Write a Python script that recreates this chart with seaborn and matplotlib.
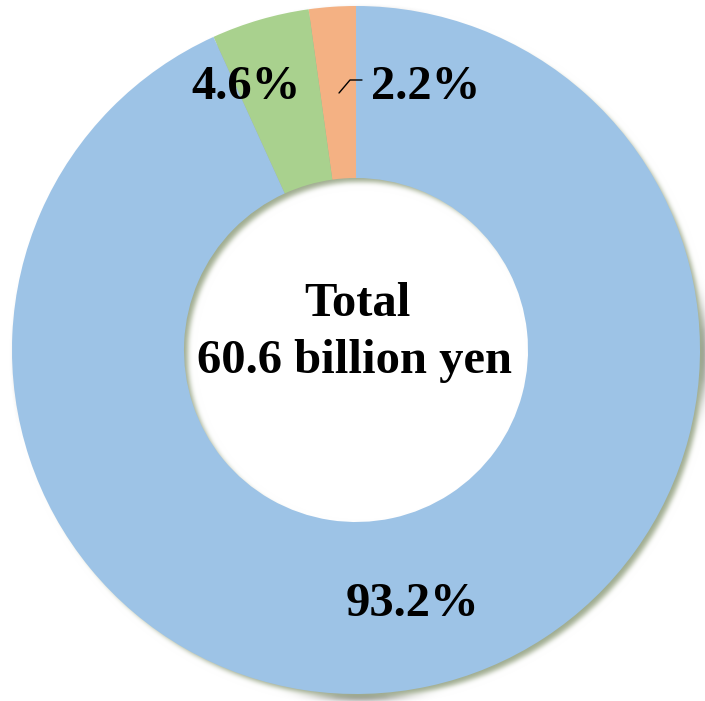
import numpy as np
import matplotlib
matplotlib.use("Agg")
import matplotlib.pyplot as plt
import seaborn as sns

# Share of the 60.6 billion yen total, listed counter-clockwise from 12 o'clock
segments = ["Orange", "Green", "Blue"]
shares = [2.2, 4.6, 93.2]
share_labels = ["2.2%", "4.6%", "93.2%"]
total_lines = ["Total", "60.6 billion yen"]

sns.set_theme(style="white")
plt.rcParams["font.family"] = ["Liberation Serif", "DejaVu Serif"]

colors = sns.color_palette(["#F4B183", "#A9D18E", "#9DC3E6"])

W, H, DPI = 705, 701, 100
fig = plt.figure(figsize=(W / DPI, H / DPI), dpi=DPI)
ax = fig.add_axes([0, 0, 1, 1])

cx_px, cy_px, r_px = 356, 350, 344


def gaussian_blur(sigma):
    def _filter(img, dpi):
        s = sigma * dpi / 72.0
        rad = int(3 * s) + 1
        k = np.exp(-0.5 * (np.arange(-rad, rad + 1) / s) ** 2)
        k /= k.sum()
        pad = rad
        out = np.pad(img, ((pad, pad), (pad, pad), (0, 0)), mode="constant")
        for axis in (0, 1):
            out = np.apply_along_axis(lambda m: np.convolve(m, k, mode="same"), axis, out)
        return out, -pad, -pad
    return _filter


# Soft drop shadow of the ring, shifted down and to the right
off = 5.0 / r_px
shadow_wedges, _ = ax.pie([1], radius=1.0, center=(off, -off), startangle=90,
                          colors=["#8f9e7c"], wedgeprops=dict(width=0.5, linewidth=0))
for w in shadow_wedges:
    w.set_agg_filter(gaussian_blur(2.2))
    w.set_alpha(0.85)
    w.set_zorder(0)

wedges, _ = ax.pie(shares, radius=1.0, center=(0, 0), startangle=90, counterclock=True,
                   colors=colors, wedgeprops=dict(width=0.5, linewidth=0))
for w in wedges:
    w.set_zorder(1)

# Map one data unit to the ring radius in pixels
ax.set_xlim(-cx_px / r_px, (W - cx_px) / r_px)
ax.set_ylim(-(H - cy_px) / r_px, cy_px / r_px)
ax.set_aspect("equal")
ax.axis("off")


def to_data(px, py):
    return (px - cx_px) / r_px, (cy_px - py) / r_px


label_font = dict(fontsize=35, fontweight="bold", color="black",
                  ha="center", va="center", zorder=3)

# Percentage labels
ax.text(*to_data(426, 87), share_labels[0], **label_font)
ax.text(*to_data(246, 87), share_labels[1], **label_font)
ax.text(*to_data(412, 604), share_labels[2], **label_font)

# Leader line for the narrow slice
lx, ly = zip(to_data(339, 93), to_data(350, 80), to_data(362, 80))
ax.plot(lx, ly, color="black", linewidth=1.0, zorder=3)

# Centre caption
ax.text(*to_data(357, 304), total_lines[0], **label_font)
ax.text(*to_data(355, 361), total_lines[1], **label_font)

fig.savefig("out.png", dpi=DPI, facecolor="white")
